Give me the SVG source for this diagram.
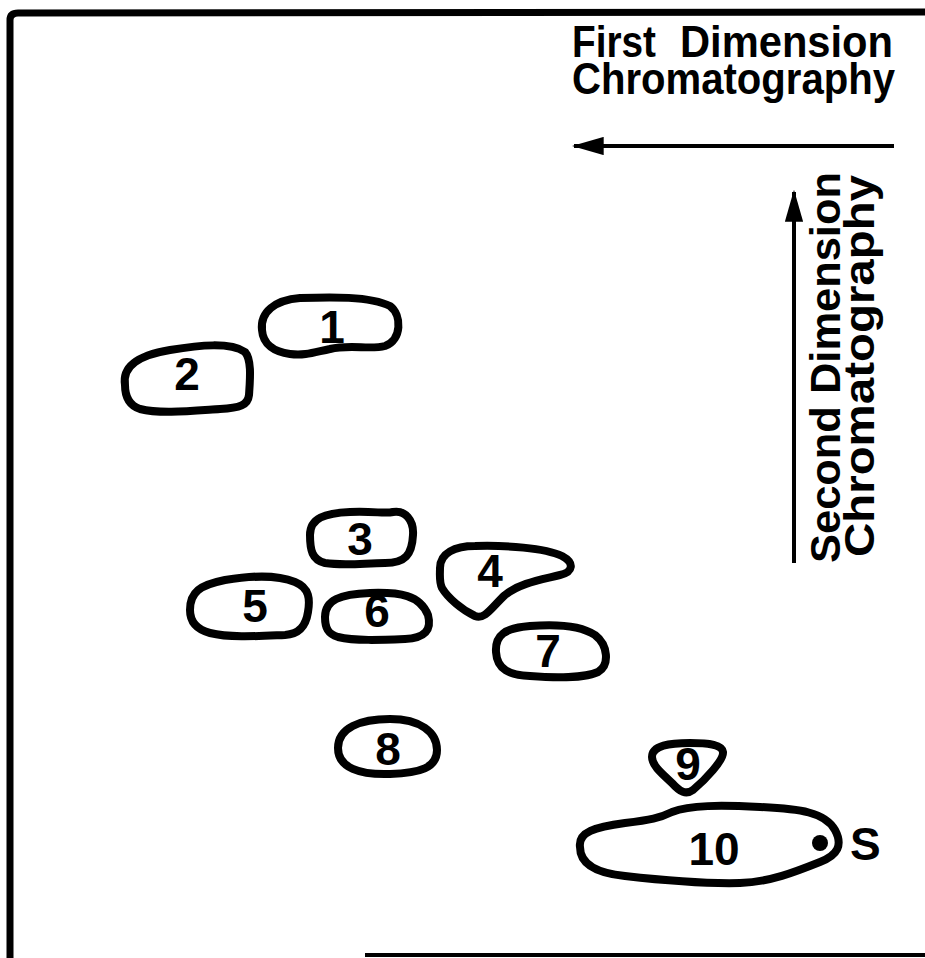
<svg xmlns="http://www.w3.org/2000/svg" width="925" height="958" viewBox="0 0 925 958">
<style>
.spot{fill:none;stroke:#000;stroke-width:8;stroke-linejoin:round;stroke-linecap:round}
.lbl{font-family:"Liberation Sans",Arial,sans-serif;font-weight:bold;font-size:46px;fill:#000;text-anchor:middle}
.title{font-family:"Liberation Sans",Arial,sans-serif;font-weight:bold;font-size:44px;fill:#000}
.vtitle{font-family:"Liberation Sans",Arial,sans-serif;font-weight:bold;font-size:42px;fill:#000}
.frame{fill:none;stroke:#000;stroke-linejoin:round;stroke-linecap:butt}
.axis{stroke:#000;stroke-width:4;fill:none}
</style>
<defs>
<marker id="ah" viewBox="0 0 14 8" refX="13" refY="4" markerWidth="8" markerHeight="4.6" markerUnits="strokeWidth" orient="auto">
<path d="M0,0 L14,4 L0,8 Z" fill="#000"/>
</marker>
</defs>
<rect width="925" height="958" fill="#fff"/>
<g id="frame">
<path class="frame" stroke-width="7" d="M10,958 L10,20 Q10,13 18,13 L925,12"/>
<path class="frame" stroke-width="4" d="M365,955 L925,955"/>
</g>
<g id="titles">
<text class="title" y="57"><tspan x="572" textLength="84" lengthAdjust="spacingAndGlyphs">First</tspan><tspan x="680" textLength="213" lengthAdjust="spacingAndGlyphs">Dimension</tspan></text>
<text class="title" x="572" y="94" textLength="323" lengthAdjust="spacingAndGlyphs">Chromatography</text>
<text class="vtitle" transform="translate(840,563) rotate(-90)" x="0" y="0" textLength="391" lengthAdjust="spacingAndGlyphs">Second Dimension</text>
<text class="vtitle" transform="translate(874,557) rotate(-90)" x="0" y="0" textLength="382" lengthAdjust="spacingAndGlyphs">Chromatography</text>
</g>
<g id="connectors">
<line class="axis" x1="894" y1="146" x2="574" y2="146" marker-end="url(#ah)"/>
<line class="axis" x1="794" y1="563" x2="794" y2="192" marker-end="url(#ah)"/>
</g>
<g id="spot1">
<path class="spot" d="M262,330 C260,312 275,300 300,298 C330,297 370,296 390,306 C402,315 402,340 385,346 C370,350 350,344 330,349 C315,352 305,356 290,354 C275,352 263,345 262,330 Z"/>
<text class="lbl" x="332" y="343">1</text>
</g>
<g id="spot2">
<path class="spot" d="M125,385 C122,365 140,355 170,350 C200,345 230,342 245,352 C252,360 250,380 249,395 C248,405 240,408 220,409 C190,411 160,414 140,409 C128,405 125,395 125,385 Z"/>
<text class="lbl" x="187" y="390">2</text>
</g>
<g id="spot3">
<path class="spot" d="M310,535 C310,518 325,513 350,512 C375,511 385,514 393,512 C405,510 414,520 413,535 C412,555 405,563 385,563 C365,563 345,566 325,563 C312,560 310,550 310,535 Z"/>
<text class="lbl" x="360" y="555">3</text>
</g>
<g id="spot4">
<path class="spot" d="M440,568 C440,553 455,546 475,546 C505,545 545,548 562,556 C575,563 573,572 560,575 C540,580 520,583 505,595 C492,607 485,620 475,616 C462,610 448,598 442,588 C439,582 440,575 440,568 Z"/>
<text class="lbl" x="490" y="587">4</text>
</g>
<g id="spot5">
<path class="spot" d="M190,610 C190,592 200,585 225,580 C250,576 275,574 295,582 C310,588 310,600 308,612 C306,625 300,634 285,635 C260,636 230,638 210,633 C195,629 190,620 190,610 Z"/>
<text class="lbl" x="255" y="622">5</text>
</g>
<g id="spot6">
<path class="spot" d="M325,617 C325,600 340,594 370,593 C400,592 420,595 428,615 C432,630 425,638 405,639 C380,640 355,641 338,637 C328,634 325,628 325,617 Z"/>
<text class="lbl" x="377" y="627">6</text>
</g>
<g id="spot7">
<path class="spot" d="M496,652 C495,635 505,628 530,626 C555,624 580,625 595,635 C608,645 610,665 598,672 C585,678 555,678 530,676 C510,675 497,670 496,652 Z"/>
<text class="lbl" x="548" y="667">7</text>
</g>
<g id="spot8">
<path class="spot" d="M338,748 C338,728 360,719 390,719 C420,719 437,732 437,750 C437,768 420,773 390,774 C360,775 338,768 338,748 Z"/>
<text class="lbl" x="388" y="765">8</text>
</g>
<g id="spot9">
<path class="spot" d="M652,757 C652,745 670,743 690,743 C710,743 722,745 723,752 C724,760 705,780 693,790 C686,795 680,792 672,783 C660,772 652,765 652,757 Z"/>
<text class="lbl" x="688" y="780">9</text>
</g>
<g id="spot10">
<path class="spot" d="M580,847 C578,832 595,827 625,823 C650,820 660,818 672,812 C690,805 720,805 760,807 C800,809 825,812 835,830 C843,845 838,855 820,862 C795,872 770,882 740,883 C700,884 660,880 625,876 C595,873 580,863 580,847 Z"/>
<text class="lbl" x="714" y="865">10</text>
</g>
<g id="start">
<circle cx="820" cy="843" r="8" fill="#000"/>
<text class="lbl" x="850" y="860" style="text-anchor:start">S</text>
</g>
</svg>
